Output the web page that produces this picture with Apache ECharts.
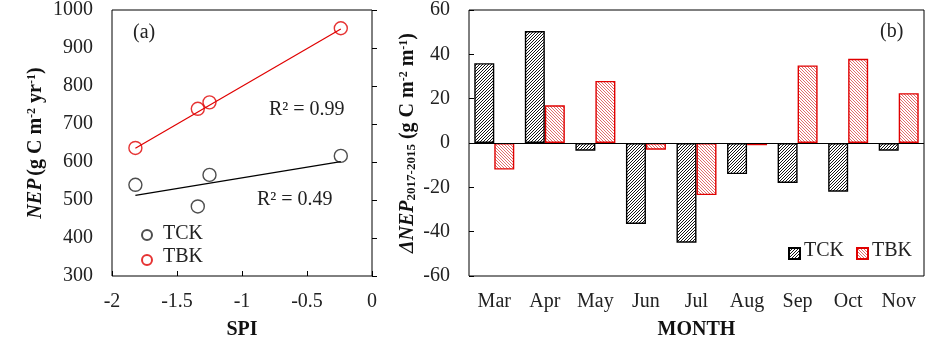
<!DOCTYPE html>
<html>
<head>
<meta charset="utf-8">
<script src="https://cdn.jsdelivr.net/npm/echarts@6/dist/echarts.min.js"></script>
<style>
  html, body { margin: 0; padding: 0; background: #fff; }
  #chart { width: 927px; height: 346px; }
</style>
</head>
<body>
<div id="chart"></div>
<script>
// panel (a): NEP vs SPI
const spi_tck = [-1.82, -1.34, -1.25, -0.24];
const nep_tck = [540, 483, 566, 616];
const spi_tbk = [-1.82, -1.34, -1.25, -0.24];
const nep_tbk = [637, 740, 757, 952];
// fitted lines, end points
const fit_tck = [[-1.82, 512], [-0.24, 601]];
const fit_tbk = [[-1.82, 636], [-0.24, 950]];

// panel (b): monthly difference
const months = ['Mar', 'Apr', 'May', 'Jun', 'Jul', 'Aug', 'Sep', 'Oct', 'Nov'];
const dnep_tck = [36, 50.5, -3.5, -36.5, -45, -14, -18, -22, -3.5];
const dnep_tbk = [-12, 17, 28, -3, -23.5, -1, 35, 38, 22.5];

const serif = 'Liberation Serif';
const txt_font = '20px "Liberation Serif"';

// pixel hatch tile, period 3
function hatch(rgb, dir) {
    let c = document.createElement('canvas');
    c.width = 3;
    c.height = 3;
    let ctx = c.getContext('2d');
    let img = ctx.createImageData(3, 3);
    for (let y = 0; y < 3; y++) {
        for (let x = 0; x < 3; x++) {
            let on = dir === '/' ? (x + y) % 3 === 0 : (x - y + 3) % 3 === 0;
            let k = (y * 3 + x) * 4;
            let col = on ? rgb : [255, 255, 255];
            img.data[k] = col[0];
            img.data[k + 1] = col[1];
            img.data[k + 2] = col[2];
            img.data[k + 3] = 255;
        }
    }
    ctx.putImageData(img, 0, 0);
    return {image: c, repeat: 'repeat'};
}

const zip = (xs, ys) => xs.map((x, i) => [x, ys[i]]);

const axis_label = {fontFamily: serif, fontSize: 20, color: '#222'};
const name_style = {fontFamily: serif, fontSize: 20, fontWeight: 'bold', color: '#111'};
// legend draws only the icons, labels are graphic texts
const no_text = () => '';

let option = {
    animation: false,
    textStyle: {fontFamily: serif},
    grid: [
        {left: 112, top: 8, width: 260, height: 268, show: true, borderColor: '#000', borderWidth: 1},
        {left: 469, top: 8, right: 3, height: 268, show: true, borderColor: '#000', borderWidth: 1}
    ],
    xAxis: [{
        gridIndex: 0, type: 'value', min: -2, max: 0, interval: 0.5,
        axisLine: {show: false}, splitLine: {show: false},
        axisTick: {show: true, inside: true, length: 5, lineStyle: {color: '#000'}},
        axisLabel: Object.assign({margin: 16}, axis_label),
        name: 'SPI', nameLocation: 'middle', nameGap: 44,
        nameTextStyle: name_style
    }, {
        gridIndex: 1, type: 'category', data: months,
        axisLine: {show: false}, axisTick: {show: false},
        axisLabel: Object.assign({margin: 16}, axis_label),
        name: 'MONTH', nameLocation: 'middle', nameGap: 44,
        nameTextStyle: name_style
    }],
    yAxis: [{
        gridIndex: 0, type: 'value', min: 300, max: 1000, interval: 100,
        axisLine: {show: false}, splitLine: {show: false},
        axisTick: {show: true, inside: true, length: 5, lineStyle: {color: '#000'}},
        axisLabel: Object.assign({margin: 19, formatter: (v) => String(v)}, axis_label),
        name: '{i|NEP} {b|(g C m}{s|-2}{b| yr}{s|-1}{b|)}',
        nameLocation: 'middle', nameRotate: 90, nameGap: 66,
        nameTextStyle: {
            rich: {
                i: {fontFamily: serif, fontSize: 20, fontWeight: 'bold', fontStyle: 'italic', color: '#111'},
                b: {fontFamily: serif, fontSize: 20, fontWeight: 'bold', color: '#111'},
                s: {fontFamily: serif, fontSize: 12, fontWeight: 'bold', color: '#111', padding: [0, 0, 8, 0]}
            }
        }
    }, {
        gridIndex: 1, type: 'value', min: -60, max: 60, interval: 20,
        axisLine: {show: false}, splitLine: {show: false},
        axisTick: {show: true, inside: true, length: 5, lineStyle: {color: '#000'}},
        axisLabel: Object.assign({margin: 19}, axis_label),
        name: '{i|ΔNEP}{sub|2017-2015}{b| (g C m}{s|-2}{b| m}{s|-1}{b|)}',
        nameLocation: 'middle', nameRotate: 90, nameGap: 51,
        nameTextStyle: {
            rich: {
                i: {fontFamily: serif, fontSize: 20, fontWeight: 'bold', fontStyle: 'italic', color: '#111'},
                b: {fontFamily: serif, fontSize: 20, fontWeight: 'bold', color: '#111'},
                sub: {fontFamily: serif, fontSize: 13, fontWeight: 'bold', color: '#111', padding: [8, 0, 0, 0]},
                s: {fontFamily: serif, fontSize: 12, fontWeight: 'bold', color: '#111', padding: [0, 0, 8, 0]}
            }
        }
    }],
    legend: [{
        data: ['TCK', 'TBK'], orient: 'vertical', left: 141, top: 229, padding: 0,
        itemWidth: 10, itemHeight: 10, itemGap: 13, formatter: no_text
    }, {
        data: [{name: 'TCK ', icon: 'rect'}], left: 788, top: 247, padding: 0,
        itemWidth: 11, itemHeight: 11, formatter: no_text
    }, {
        data: [{name: 'TBK ', icon: 'rect'}], left: 856, top: 247, padding: 0,
        itemWidth: 11, itemHeight: 11, formatter: no_text
    }],
    series: [{
        name: 'TCK fit', type: 'line', xAxisIndex: 0, yAxisIndex: 0,
        data: fit_tck, showSymbol: false, lineStyle: {color: '#000', width: 1.2}
    }, {
        name: 'TBK fit', type: 'line', xAxisIndex: 0, yAxisIndex: 0,
        data: fit_tbk, showSymbol: false, lineStyle: {color: '#e00000', width: 1.2}
    }, {
        name: 'TCK', type: 'scatter', xAxisIndex: 0, yAxisIndex: 0,
        data: zip(spi_tck, nep_tck), symbol: 'circle', symbolSize: 13,
        itemStyle: {color: 'rgba(255,255,255,0)', borderColor: '#222', borderWidth: 1.4}
    }, {
        name: 'TBK', type: 'scatter', xAxisIndex: 0, yAxisIndex: 0,
        data: zip(spi_tbk, nep_tbk), symbol: 'circle', symbolSize: 13,
        itemStyle: {color: 'rgba(255,255,255,0)', borderColor: '#e00000', borderWidth: 1.4}
    }, {
        name: 'TCK ', type: 'bar', xAxisIndex: 1, yAxisIndex: 1,
        data: dnep_tck, barWidth: 20, barGap: '0%',
        itemStyle: {color: hatch([20, 20, 20], '/'), borderColor: '#000', borderWidth: 1.4},
        markLine: {
            silent: true, symbol: 'none', label: {show: false},
            lineStyle: {color: '#000', width: 1.2, type: 'solid'},
            data: [{yAxis: 0}]
        }
    }, {
        name: 'TBK ', type: 'bar', xAxisIndex: 1, yAxisIndex: 1,
        data: dnep_tbk, barWidth: 20, barGap: '0%',
        itemStyle: {color: hatch([225, 110, 110], '\\'), borderColor: '#e00000', borderWidth: 1.4}
    }],
    graphic: [
        {type: 'text', left: 133, top: 23, style: {text: '(a)', font: txt_font, fill: '#222'}},
        {type: 'text', left: 269, top: 100, style: {text: 'R² = 0.99', font: txt_font, fill: '#222'}},
        {type: 'text', left: 257, top: 190, style: {text: 'R² = 0.49', font: txt_font, fill: '#222'}},
        {type: 'text', left: 880, top: 22, style: {text: '(b)', font: txt_font, fill: '#222'}},
        {type: 'text', left: 163, top: 224, style: {text: 'TCK', font: txt_font, fill: '#222'}},
        {type: 'text', left: 163, top: 247, style: {text: 'TBK', font: txt_font, fill: '#222'}},
        {type: 'text', left: 804, top: 241, style: {text: 'TCK', font: txt_font, fill: '#222'}},
        {type: 'text', left: 872, top: 241, style: {text: 'TBK', font: txt_font, fill: '#222'}}
    ]
};

let my_chart = echarts.init(document.getElementById('chart'));
my_chart.setOption(option);
</script>
</body>
</html>
